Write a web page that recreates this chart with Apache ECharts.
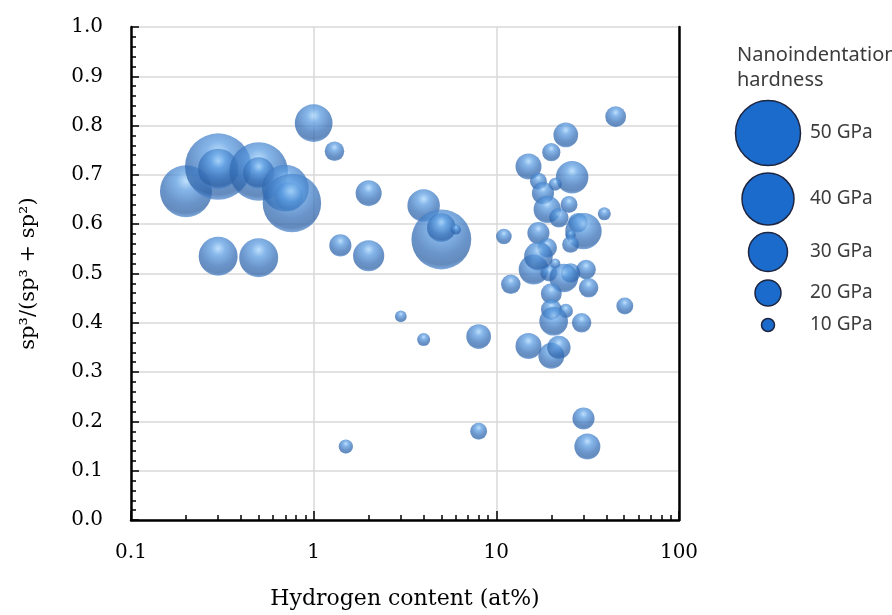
<!DOCTYPE html>
<html>
<head>
<meta charset="utf-8">
<script src="https://cdn.jsdelivr.net/npm/echarts@6/dist/echarts.min.js"></script>
<style>
  html, body { margin: 0; padding: 0; background: #fff; }
  #chart { width: 892px; height: 615px; }
</style>
</head>
<body>
<div id="chart"></div>
<script>
// Hydrogen content (at%) of each film
const hydrogen = [
  0.2, 0.3, 0.3, 0.5, 0.5, 0.7, 0.73, 0.76, 0.3, 0.5,
  1.0, 1.3, 2.0, 4.0, 5.0, 5.0, 6.0, 1.4, 2.0, 3.0,
  4.0, 8.0, 8.0, 1.5,
  45, 24, 20, 15, 26, 17, 21, 18, 25, 19,
  39, 22, 28, 30, 11, 17, 25.5, 25.5, 19, 21,
  16, 19.4, 25.5, 31, 23.4, 32, 12, 20, 24, 20,
  20.6, 29.3, 15, 20, 22, 30, 31.5, 50.5, 17
];
// sp3 / (sp3 + sp2) fraction
const sp3Fraction = [
  0.667, 0.717, 0.712, 0.707, 0.704, 0.673, 0.656, 0.643, 0.535, 0.532,
  0.805, 0.748, 0.663, 0.638, 0.569, 0.593, 0.589, 0.557, 0.536, 0.413,
  0.366, 0.372, 0.180, 0.149,
  0.818, 0.781, 0.746, 0.717, 0.695, 0.687, 0.681, 0.663, 0.640, 0.630,
  0.621, 0.613, 0.603, 0.586, 0.575, 0.582, 0.578, 0.559, 0.552, 0.520,
  0.508, 0.501, 0.501, 0.508, 0.491, 0.471, 0.478, 0.459, 0.424, 0.427,
  0.403, 0.400, 0.353, 0.333, 0.350, 0.206, 0.149, 0.434, 0.535
];
// Nanoindentation hardness (GPa)
const hardness = [
  40, 51, 31, 45, 24, 36, 22, 45, 30, 30,
  29, 15, 20, 25, 46, 22, 8, 17, 24, 9,
  10, 19, 13, 11,
  16, 19, 14, 20, 25, 13, 10, 17, 13, 21,
  10, 15, 15, 28, 12, 17, 8, 13, 15, 8,
  23, 13, 15, 15, 22, 15, 15, 16, 11, 16,
  22, 15, 20, 20, 18, 17, 20, 13, 22
];

// Size legend entries (GPa)
const legendValues = [50, 40, 30, 20, 10];
// Minor tick positions of the logarithmic hydrogen axis
const xMinorTicks = [0.2, 0.3, 0.4, 0.5, 0.6, 0.7, 0.8, 0.9,
                     2, 3, 4, 5, 6, 7, 8, 9,
                     20, 30, 40, 50, 60, 70, 80, 90];

// bubble diameter in px per GPa
const PX_PER_GPA = 1.3;

const SERIF = "'DejaVu Serif', 'Liberation Serif', serif";
const SANS = "'Noto Sans', 'Open Sans', sans-serif";

const bubbles = hydrogen.map((h, i) => [h, sp3Fraction[i], hardness[i]]);

// glossy sphere shading
const sphere = {
  type: 'radial', x: 0.5, y: 0.3, r: 0.72,
  colorStops: [
    { offset: 0, color: '#a8d5fb' },
    { offset: 0.25, color: '#5c9de2' },
    { offset: 0.62, color: '#3670b8' },
    { offset: 0.86, color: '#2e62a6' },
    { offset: 1, color: '#5c95dc' }
  ]
};

// legend: circles stacked on the right, sized with the same scale as the bubbles
const legendCenters = [133, 199, 252, 293, 325];
const legendGraphics = [
  {
    type: 'text', left: 737, top: 43,
    style: { text: 'Nanoindentation\nhardness', font: '20px ' + SANS, fill: '#3c3c3c', lineHeight: 25 }
  }
];
legendValues.forEach((v, i) => {
  legendGraphics.push({
    type: 'circle',
    shape: { cx: 768, cy: legendCenters[i], r: v * PX_PER_GPA / 2 },
    style: { fill: '#1b6bcc', stroke: '#1d2540', lineWidth: 1.5 }
  });
  legendGraphics.push({
    type: 'text', x: 810, y: legendCenters[i],
    style: { text: v + ' GPa', font: '19px ' + SANS, fill: '#3c3c3c', verticalAlign: 'middle' }
  });
});

const chart = echarts.init(document.getElementById('chart'), null, { renderer: 'canvas' });

chart.setOption({
  animation: false,
  backgroundColor: '#ffffff',
  grid: { left: 131, right: 213, top: 27, bottom: 94, containLabel: false },
  xAxis: [
    {
      type: 'log', logBase: 10, min: 0.1, max: 100,
      axisLine: { show: true, onZero: false, lineStyle: { color: '#000', width: 2.5 } },
      axisTick: { show: true, inside: true, length: 9, lineStyle: { color: '#000', width: 1.5 } },
      minorTick: { show: false },
      splitLine: { show: true, lineStyle: { color: '#d9d9d9', width: 1.5 } },
      axisLabel: { color: '#000', fontFamily: SERIF, fontSize: 20, margin: 23 },
      name: 'Hydrogen content (at%)',
      nameLocation: 'middle', nameGap: 68,
      nameTextStyle: { color: '#000', fontFamily: SERIF, fontSize: 22 }
    },
    {
      // overlay in log10 units carrying the 2..9 minor ticks
      type: 'value', min: -1, max: 2, position: 'bottom',
      axisLine: { show: false, onZero: false },
      axisTick: {
        show: true, inside: true, length: 5,
        customValues: xMinorTicks.map(v => Math.log10(v)),
        lineStyle: { color: '#000', width: 1.5 }
      },
      axisLabel: { show: false },
      splitLine: { show: false }
    }
  ],
  yAxis: [
    {
      type: 'value', min: 0, max: 1, interval: 0.1,
      axisLine: { show: true, onZero: false, lineStyle: { color: '#000', width: 2.5 } },
      axisTick: { show: true, inside: true, length: 8, lineStyle: { color: '#000', width: 1.5 } },
      minorTick: { show: true, splitNumber: 5, length: 5, lineStyle: { color: '#000', width: 1.5 } },
      splitLine: { show: true, lineStyle: { color: '#d9d9d9', width: 1.5 } },
      axisLabel: {
        color: '#000', fontFamily: SERIF, fontSize: 20, margin: 28,
        formatter: v => v.toFixed(1)
      },
      name: 'sp\u00b3/(sp\u00b3 + sp\u00b2)',
      nameLocation: 'middle', nameGap: 92,
      nameTextStyle: { color: '#000', fontFamily: SERIF, fontSize: 21 }
    },
    {
      type: 'value', min: 0, max: 1, position: 'right',
      axisLine: { show: true, onZero: false, lineStyle: { color: '#000', width: 2.5 } },
      axisTick: { show: false }, axisLabel: { show: false }, splitLine: { show: false }
    }
  ],
  series: [{
    type: 'scatter',
    data: bubbles,
    symbol: 'circle',
    symbolSize: d => d[2] * PX_PER_GPA,
    itemStyle: { color: sphere, opacity: 0.74 },
    emphasis: { disabled: true },
    silent: true
  }],
  graphic: legendGraphics
});
</script>
</body>
</html>
